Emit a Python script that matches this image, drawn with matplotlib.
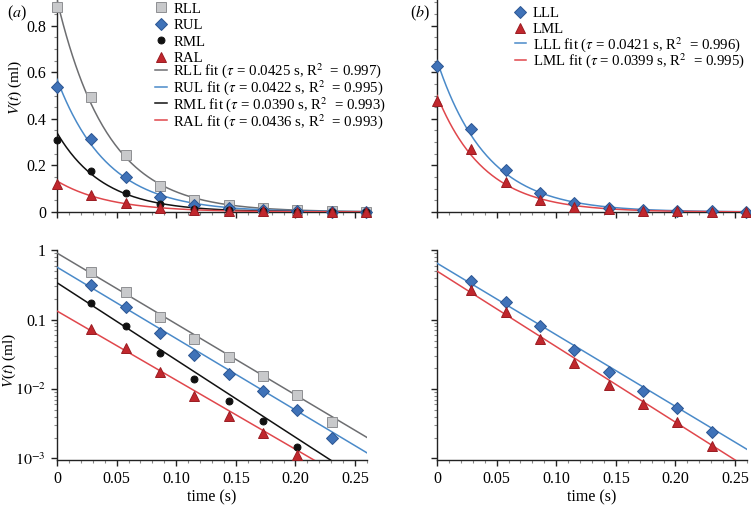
import numpy as np
import matplotlib
matplotlib.use("Agg")
import matplotlib.pyplot as plt
from matplotlib.ticker import MultipleLocator, LogLocator, FixedLocator, FixedFormatter, NullFormatter

plt.rcParams['font.family'] = ['Liberation Serif', 'DejaVu Serif']
plt.rcParams['mathtext.fontset'] = 'stix'

# sample times (s)
t = [0.0, 0.0288, 0.0576, 0.0864, 0.1152, 0.1440, 0.1728, 0.2016, 0.2304, 0.2592]

# measured volumes (ml), panel (a)
rll = [0.88, 0.493, 0.246, 0.110, 0.053, 0.0286, 0.0155, 0.0081, 0.0033, 0.0008]
rul = [0.535, 0.314, 0.151, 0.065, 0.031, 0.0167, 0.0093, 0.0050, 0.00197, 0.0005]
rml = [0.31, 0.175, 0.0817, 0.0334, 0.0138, 0.0067, 0.0035, 0.00147, 0.0005, 0.0002]
ral = [0.122, 0.074, 0.039, 0.0176, 0.0079, 0.0041, 0.0023, 0.00112, 0.0004, 0.0002]
# panel (b)
lll = [0.627, 0.355, 0.179, 0.080, 0.0365, 0.0178, 0.0094, 0.0053, 0.0024, 0.0006]
lml = [0.476, 0.269, 0.127, 0.0525, 0.0235, 0.0114, 0.0061, 0.0034, 0.00149, 0.0004]

# fit parameters: amplitude (ml), tau (s), R^2
fit_a = {'RLL': (0.91, 0.0425, 0.997), 'RUL': (0.57, 0.0422, 0.995),
         'RML': (0.34, 0.0390, 0.993), 'RAL': (0.133, 0.0436, 0.993)}
fit_b = {'LLL': (0.65, 0.0421, 0.996), 'LML': (0.50, 0.0399, 0.995)}

gray_line = '#6d6e71'
blue_line = '#4a8ac9'
red_line = '#e0474c'
styles = {
    'RLL': dict(marker='s', mfc='#c8c9cb', mec='#8e8f92', ms=6.5, line=gray_line),
    'RUL': dict(marker='D', mfc='#3f72b8', mec='#2b5592', ms=6.5, line=blue_line),
    'RML': dict(marker='o', mfc='#111111', mec='#111111', ms=5, line='#111111'),
    'RAL': dict(marker='^', mfc='#c1272d', mec='#9a1c22', ms=7, line=red_line),
    'LLL': dict(marker='D', mfc='#3f72b8', mec='#2b5592', ms=6.5, line=blue_line),
    'LML': dict(marker='^', mfc='#c1272d', mec='#9a1c22', ms=7, line=red_line),
}
data_a = {'RLL': rll, 'RUL': rul, 'RML': rml, 'RAL': ral}
data_b = {'LLL': lll, 'LML': lml}

fig = plt.figure(figsize=(7.51, 5.08), dpi=100)
W = 0.4128
ax_a = fig.add_axes([0.0759, 0.5827, W, 0.4173])
ax_b = fig.add_axes([0.5819, 0.5827, W, 0.4173])
ax_c = fig.add_axes([0.0759, 0.0945, W, 0.413])
ax_d = fig.add_axes([0.5819, 0.0945, W, 0.413])

tt = np.linspace(0, 0.26, 300)


def style_axes(ax):
    for s in ['top', 'right']:
        ax.spines[s].set_visible(False)
    for s in ['left', 'bottom']:
        ax.spines[s].set_color('#222222')
        ax.spines[s].set_linewidth(1.0)
    ax.set_xlim(0, 0.26)
    ax.xaxis.set_major_locator(MultipleLocator(0.05))
    ax.xaxis.set_minor_locator(MultipleLocator(0.01))
    ax.tick_params(which='major', direction='out', length=4.5, width=1, color='#222222', labelsize=11.5)
    ax.tick_params(which='minor', direction='out', length=2.5, width=0.8, color='#888888')


def draw_linear(ax, data, fits):
    handles_m, handles_l = [], []
    for name, vals in data.items():
        st = styles[name]
        h, = ax.plot(t, vals, linestyle='none', marker=st['marker'], mfc=st['mfc'],
                     mec=st['mec'], ms=st['ms'], mew=0.7, clip_on=False, zorder=4, label=name)
        handles_m.append(h)
    for name, (a, tau, r2) in fits.items():
        lab = name + r' fit ($\tau$ = %.4f s, R$^2$  = %.3f)' % (tau, r2)
        h, = ax.plot(tt, a * np.exp(-tt / tau), color=styles[name]['line'], lw=1.1, zorder=3, label=lab)
        handles_l.append(h)
    style_axes(ax)
    ax.set_ylim(0, 0.91)
    ax.yaxis.set_major_locator(MultipleLocator(0.2))
    ax.yaxis.set_minor_locator(MultipleLocator(0.05))
    ax.xaxis.set_major_formatter(NullFormatter())
    return handles_m, handles_l


def draw_log(ax, data, fits):
    for name, (a, tau, r2) in fits.items():
        ax.plot(tt, a * np.exp(-tt / tau), color=styles[name]['line'], lw=1.1, zorder=3)
    for name, vals in data.items():
        st = styles[name]
        ax.plot(t[1:9], vals[1:9], linestyle='none', marker=st['marker'], mfc=st['mfc'],
                mec=st['mec'], ms=st['ms'], mew=0.7, zorder=4)
    style_axes(ax)
    ax.set_yscale('log')
    ax.set_ylim(0.00095, 1.0)
    ax.yaxis.set_major_locator(FixedLocator([1e-3, 1e-2, 1e-1, 1]))
    ax.yaxis.set_minor_locator(LogLocator(base=10, subs=np.arange(2, 10)))
    ax.yaxis.set_minor_formatter(NullFormatter())
    ax.set_xticks([0, 0.05, 0.10, 0.15, 0.20, 0.25])
    ax.set_xticklabels(['0', '0.05', '0.10', '0.15', '0.20', '0.25'])
    ax.set_xlabel('time (s)', fontsize=11.5, labelpad=2)


hm_a, hl_a = draw_linear(ax_a, data_a, fit_a)
hm_b, hl_b = draw_linear(ax_b, data_b, fit_b)
draw_log(ax_c, data_a, fit_a)
draw_log(ax_d, data_b, fit_b)

ax_a.set_yticks([0, 0.2, 0.4, 0.6, 0.8])
ax_a.set_yticklabels(['0', '0.2', '0.4', '0.6', '0.8'])
ax_b.yaxis.set_major_formatter(NullFormatter())
ax_c.yaxis.set_major_formatter(FixedFormatter(['$10^{-3}$', '$10^{-2}$', '0.1', '1']))
ax_d.yaxis.set_major_formatter(NullFormatter())

ax_a.set_ylabel('$V$($t$) (ml)', fontsize=11)
ax_a.yaxis.set_label_coords(-0.105, 0.59)
ax_c.set_ylabel('$V$($t$) (ml)', fontsize=11)
ax_c.yaxis.set_label_coords(-0.127, 0.476)

# markers and fit lines in separate legends so the row spacing can match
leg_kw = dict(frameon=False, fontsize=10.7, handlelength=0.8, handletextpad=0.45,
              borderpad=0, borderaxespad=0, loc='upper left')
leg1 = ax_a.legend(handles=hm_a, bbox_to_anchor=(0.315, 0.99), labelspacing=0.21, **leg_kw)
ax_a.add_artist(leg1)
ax_a.legend(handles=hl_a, bbox_to_anchor=(0.315, 0.71), labelspacing=-0.15, **leg_kw)
leg2 = ax_b.legend(handles=hm_b, bbox_to_anchor=(0.25, 0.97), labelspacing=0.21, **leg_kw)
ax_b.add_artist(leg2)
ax_b.legend(handles=hl_b, bbox_to_anchor=(0.25, 0.836), labelspacing=-0.15, **leg_kw)

fig.text(0.009, 0.992, '($a$)', fontsize=11.5, va='top', ha='left')
fig.text(0.546, 0.992, '($b$)', fontsize=11.5, va='top', ha='left')

fig.savefig('out.png', dpi=100)
